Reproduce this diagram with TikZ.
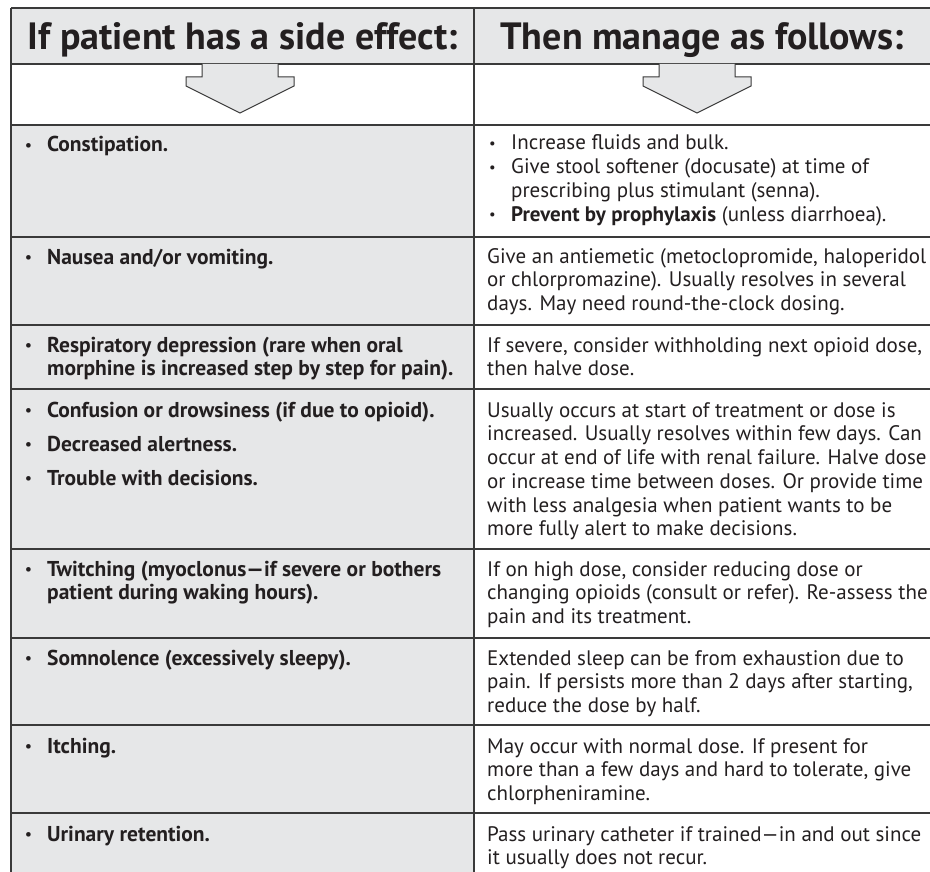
\documentclass[tikz,border=0pt]{standalone}
\usepackage{fontspec}
\setmainfont{PT Sans}
\usepackage{tikz}

\definecolor{cellgray}{HTML}{E6E7E8}
\definecolor{rulegray}{HTML}{3A3A3A}
\definecolor{inkgray}{HTML}{231F20}

\newcommand{\bul}{\makebox[22pt][l]{\raisebox{1.5pt}{\scalebox{0.7}{\textbullet}}}}
\newcommand{\ind}{\hspace*{22pt}}
\newcommand{\cell}[1]{\begin{tabular}[t]{@{}l@{}}#1\end{tabular}}

\begin{document}
\begin{tikzpicture}[x=1pt,y=-1pt,
        rule/.style={draw=rulegray,line width=1.4pt},
        bigarrow/.style={draw=rulegray,fill=cellgray,line width=1pt,line join=miter},
        every node/.style={inner sep=0pt,text=inkgray,anchor=base west},
        head/.style={font=\fontsize{38}{42}\selectfont\bfseries,anchor=base},
        effect/.style={font=\fontsize{21.5}{23.8}\selectfont\bfseries},
        action/.style={font=\fontsize{21}{23.8}\selectfont}]

    \useasboundingbox (0,0) rectangle (930,872);

    % cell backgrounds
    \fill[cellgray] (11,8) rectangle (930,64);
    \fill[cellgray] (11,125) rectangle (474,872);

    % rules
    \foreach \y in {8,64,125,237,325,389,549,638,725,813}
        \draw[rule] (11,\y) -- (930,\y);
    \draw[rule] (11,8) -- (11,872);
    \draw[rule] (474,8) -- (474,872);

    % down arrows
    \foreach \cx in {240,697}
        \draw[bigarrow] (\cx-38,64) -- (\cx-38,77) -- (\cx-54,77) -- (\cx-54,86)
            -- (\cx,113) -- (\cx+54,86) -- (\cx+54,77) -- (\cx+38,77) -- (\cx+38,64);

    % headings
    \node[head] (effhead) at (242.5,50) {If patient has a side effect:};
    \node[head] (acthead) at (702,50) {Then manage as follows:};

    % side effects
    \node[effect] (constip) at (25,152) {\bul Constipation.};
    \node[effect] (nausea)  at (25,264) {\bul Nausea and/or vomiting.};
    \node[effect] (resp)    at (25,352) {\cell{\bul Respiratory depression (rare when oral\\
        \ind morphine is increased step by step for pain).}};
    \node[effect] (confus)  at (25,417) {\bul Confusion or drowsiness (if due to opioid).};
    \node[effect] (alert)   at (25,451) {\bul Decreased alertness.};
    \node[effect] (decis)   at (25,485) {\bul Trouble with decisions.};
    \node[effect] (twitch)  at (25,576) {\cell{\bul Twitching (myoclonus---if severe or bothers\\
        \ind patient during waking hours).}};
    \node[effect] (somno)   at (25,665) {\bul Somnolence (excessively sleepy).};
    \node[effect] (itch)    at (25,753) {\bul Itching.};
    \node[effect] (urine)   at (25,841) {\bul Urinary retention.};

    % management
    \node[action] (fluids)  at (489,150) {\cell{\bul Increase fluids and bulk.\\
        \bul Give stool softener (docusate) at time of\\
        \ind prescribing plus stimulant (senna).\\
        \bul \textbf{Prevent by prophylaxis} (unless diarrhoea).}};
    \node[action] (antiem)  at (487,263) {\cell{Give an antiemetic (metoclopromide, haloperidol\\
        or chlorpromazine). Usually resolves in several\\
        days. May need round-the-clock dosing.}};
    \node[action] (withh)   at (487,352) {\cell{If severe, consider withholding next opioid dose,\\
        then halve dose.}};
    \node[action] (halve)   at (487,417) {\cell{Usually occurs at start of treatment or dose is\\
        increased. Usually resolves within few days. Can\\
        occur at end of life with renal failure. Halve dose\\
        or increase time between doses. Or provide time\\
        with less analgesia when patient wants to be\\
        more fully alert to make decisions.}};
    \node[action] (reduce)  at (487,576) {\cell{If on high dose, consider reducing dose or\\
        changing opioids (consult or refer). Re-assess the\\
        pain and its treatment.}};
    \node[action] (sleep)   at (487,665) {\cell{Extended sleep can be from exhaustion due to\\
        pain. If persists more than 2 days after starting,\\
        reduce the dose by half.}};
    \node[action] (antihis) at (487,753) {\cell{May occur with normal dose. If present for\\
        more than a few days and hard to tolerate, give\\
        chlorpheniramine.}};
    \node[action] (cathet)  at (487,841) {\cell{Pass urinary catheter if trained---in and out since\\
        it usually does not recur.}};
\end{tikzpicture}
\end{document}
